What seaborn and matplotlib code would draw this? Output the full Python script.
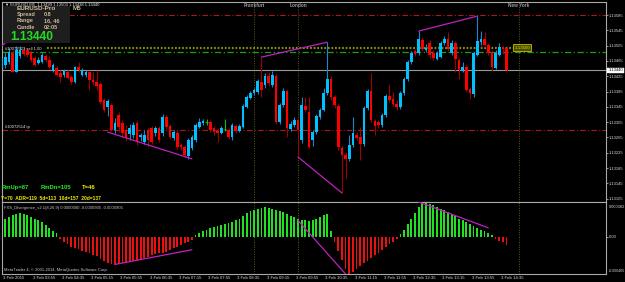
import numpy as np
import pandas as pd
import matplotlib
matplotlib.use("Agg")
import matplotlib.pyplot as plt
import matplotlib.transforms as mtransforms
from matplotlib.patches import Rectangle
import seaborn as sns

# ---------------- data (prices in points = 1e-5) ----------------
open_pts = [113447, 113454, 113462, 113486, 113436, 113478, 113494, 113494, 113488, 113473,
            113460, 113462, 113478, 113467, 113439, 113447, 113433, 113428, 113436, 113423,
            113410, 113449, 113428, 113428, 113436, 113415, 113410, 113405, 113363, 113345,
            113350, 113284, 113324, 113303, 113284, 113274, 113271, 113303, 113266, 113253,
            113284, 113290, 113277, 113290, 113277, 113318, 113295, 113264, 113277, 113245,
            113240, 113217, 113237, 113258, 113292, 113303, 113305, 113305, 113290, 113282,
            113277, 113287, 113284, 113266, 113295, 113282, 113292, 113345, 113368, 113381,
            113384, 113410, 113402, 113426, 113402, 113426, 113305, 113350, 113386, 113287,
            113298, 113311, 113258, 113347, 113332, 113258, 113279, 113318, 113337, 113381,
            113418, 113371, 113347, 113237, 113219, 113209, 113245, 113271, 113266, 113248,
            113342, 113386, 113308, 113305, 113298, 113324, 113373, 113366, 113352, 113345,
            113381, 113418, 113462, 113491, 113486, 113520, 113494, 113512, 113486, 113470,
            113475, 113512, 113522, 113486, 113512, 113467, 113439, 113449, 113392, 113379,
            113480, 113514, 113522, 113507, 113488, 113447, 113480, 113501, 113499]
high_pts = [113480, 113488, 113499, 113494, 113504, 113504, 113501, 113499, 113494, 113478,
            113475, 113486, 113483, 113478, 113460, 113452, 113441, 113444, 113441, 113428,
            113452, 113462, 113447, 113441, 113441, 113436, 113441, 113410, 113368, 113366,
            113355, 113316, 113332, 113311, 113298, 113300, 113305, 113308, 113277, 113284,
            113290, 113295, 113295, 113295, 113326, 113324, 113300, 113284, 113282, 113250,
            113245, 113264, 113271, 113303, 113316, 113313, 113313, 113311, 113295, 113290,
            113295, 113313, 113290, 113303, 113300, 113300, 113352, 113376, 113386, 113394,
            113418, 113475, 113433, 113436, 113439, 113431, 113355, 113394, 113389, 113308,
            113318, 113316, 113371, 113371, 113371, 113284, 113326, 113342, 113394, 113514,
            113426, 113376, 113352, 113243, 113227, 113271, 113318, 113279, 113292, 113347,
            113392, 113433, 113313, 113311, 113329, 113379, 113402, 113384, 113363, 113386,
            113423, 113467, 113491, 113496, 113543, 113528, 113509, 113520, 113494, 113491,
            113517, 113530, 113541, 113520, 113517, 113473, 113462, 113454, 113397, 113488,
            113582, 113543, 113541, 113512, 113494, 113494, 113512, 113504, 113503]
low_pts = [113436, 113447, 113457, 113436, 113436, 113473, 113478, 113475, 113462, 113452,
           113457, 113460, 113462, 113444, 113436, 113426, 113410, 113423, 113418, 113405,
           113407, 113436, 113426, 113423, 113389, 113402, 113389, 113352, 113332, 113321,
           113282, 113277, 113279, 113266, 113256, 113258, 113264, 113245, 113256, 113248,
           113240, 113248, 113269, 113253, 113269, 113287, 113261, 113258, 113235, 113232,
           113211, 113209, 113232, 113253, 113290, 113298, 113298, 113279, 113271, 113253,
           113274, 113282, 113261, 113258, 113277, 113279, 113290, 113342, 113366, 113376,
           113379, 113371, 113394, 113399, 113397, 113300, 113300, 113345, 113266, 113282,
           113292, 113214, 113250, 113332, 113237, 113243, 113274, 113313, 113334, 113376,
           113363, 113342, 113232, 113120, 113159, 113203, 113240, 113258, 113206, 113243,
           113337, 113305, 113271, 113290, 113292, 113318, 113358, 113347, 113337, 113339,
           113376, 113413, 113457, 113478, 113480, 113491, 113488, 113473, 113467, 113467,
           113473, 113507, 113491, 113480, 113436, 113418, 113436, 113384, 113366, 113371,
           113478, 113507, 113501, 113480, 113439, 113444, 113478, 113483, 113438]
close_pts = [113473, 113475, 113488, 113436, 113494, 113494, 113483, 113480, 113467, 113454,
             113467, 113480, 113467, 113449, 113454, 113428, 113423, 113439, 113420, 113410,
             113449, 113441, 113441, 113436, 113415, 113410, 113399, 113358, 113337, 113360,
             113284, 113303, 113292, 113277, 113266, 113290, 113298, 113253, 113271, 113271,
             113258, 113253, 113290, 113258, 113318, 113292, 113266, 113279, 113240, 113240,
             113219, 113258, 113266, 113298, 113305, 113308, 113305, 113284, 113279, 113277,
             113290, 113287, 113266, 113298, 113282, 113295, 113347, 113371, 113381, 113389,
             113413, 113389, 113426, 113407, 113428, 113305, 113350, 113386, 113290, 113300,
             113311, 113284, 113350, 113337, 113240, 113279, 113321, 113337, 113381, 113418,
             113371, 113350, 113240, 113219, 113209, 113245, 113277, 113264, 113248, 113342,
             113386, 113311, 113295, 113298, 113324, 113373, 113363, 113352, 113345, 113381,
             113418, 113462, 113486, 113483, 113522, 113496, 113499, 113480, 113473, 113486,
             113512, 113522, 113496, 113512, 113470, 113441, 113449, 113389, 113381, 113486,
             113517, 113522, 113507, 113486, 113449, 113486, 113501, 113496, 113440]

# divergence histogram, units of 1e-6
div_hist = [180, 200, 220, 240, 250, 260, 255, 240, 220, 200, 180, 160, 130, 100, 70, 40,
            -20, -50, -80, -110, -120, -130, -150, -160, -180, -200, -210, -240, -260, -280,
            -300, -310, -300, -290, -280, -270, -260, -250, -240, -230, -220, -200, -190, -180,
            -170, -160, -140, -120, -110, -90, -70, -50, -30,
            20, 40, 60, 80, 100, 110, 120, 130, 140, 150, 160, 180, 200, 230, 260, 280, 300,
            310, 320, 330, 320, 310, 290, 280, 270, 250, 230, 220, 200, 190, 180, 170, 180,
            200, 220, 240, 250, 60,
            -50, -150, -250, -350, -405, -380, -350, -320, -290, -260, -230, -200, -170, -140,
            -110, -80, -50, -20,
            30, 80, 140, 200, 260, 330, 382, 370, 360, 350, 330, 310, 290, 270, 250, 230, 200,
            180, 160, 140, 120, 100, 80, 60, 40, 20,
            -20, -40, -60, -90]

# price trend lines: (start index, start price pts, end index, end price pts)
trend_lines = [(0, 113504, 1, 113512), (29, 113279, 52, 113209), (71, 113475, 89, 113514),
               (81, 113214, 93, 113120), (114, 113543, 130, 113582)]
# indicator trend lines (index, value 1e-6)
ind_lines = [(31, -300, 52, -140), (81, 180, 94, -405), (114, 382, 133, 100)]

time_labels = ["3 Feb 2015", "3 Feb 03:55", "3 Feb 04:35", "3 Feb 05:15", "3 Feb 05:55",
               "3 Feb 06:35", "3 Feb 07:15", "3 Feb 07:55", "3 Feb 08:35", "3 Feb 09:15",
               "3 Feb 09:55", "3 Feb 10:35", "3 Feb 11:15", "3 Feb 11:55", "3 Feb 12:35",
               "3 Feb 13:15", "3 Feb 13:55", "3 Feb 14:35"]
time_idx = list(range(0, 137, 8))
price_ticks = [1.13585, 1.13545, 1.13505, 1.13465, 1.13425, 1.13385, 1.13345, 1.13305,
               1.13265, 1.13225, 1.13185, 1.13145, 1.13105]
sessions = ["Frankfurt", "London", "New York"]
session_idx = [69, 81, 141.3]
level_red_top = 1.13585
level_order = 1.13500
level_green = 1.13488
level_bid = 1.13440
level_tp = 1.13284

# ---------------- style ----------------
sns.set_style("dark", {"axes.facecolor": "black", "figure.facecolor": "black"})
plt.rcParams["font.family"] = ["Liberation Sans", "DejaVu Sans"]

W, H = 625, 282
fig = plt.figure(figsize=(W / 100, H / 100), dpi=100, facecolor="black")

def fx(x):
    return x / W

def fy(y):
    return 1 - y / H

ax = fig.add_axes([fx(2), fy(202), (606 - 2) / W, (202 - 1.7) / H])
ax2 = fig.add_axes([fx(2), fy(274), (606 - 2) / W, 72 / H], sharex=ax)
for a in (ax, ax2):
    a.set_facecolor("black")
    for s in a.spines.values():
        s.set_color("#a8a8a8")
        s.set_linewidth(0.8)
    a.grid(False)

df = pd.DataFrame({"o": np.array(open_pts) / 1e5, "h": np.array(high_pts) / 1e5,
                   "l": np.array(low_pts) / 1e5, "c": np.array(close_pts) / 1e5})
df["i"] = np.arange(len(df))
up = df[df.c > df.o]
dn = df[df.c < df.o]
dj = df[df.c == df.o]

XL, XR = 0.08, 165.2
ax.set_xlim(XL, XR)
ax.set_ylim(1.130963, 1.136198)

# horizontal levels
ax.axhline(level_red_top, color="#b01818", lw=0.8, ls=(0, (5, 2, 1, 2)), zorder=1)
ax.axhline(level_green, color="#16a016", lw=0.9, ls=(0, (5, 2, 1, 2)), zorder=1)
ax.axhline(level_bid, color="#9a9a9a", lw=0.8, zorder=1)
ax.axhline(level_tp, color="#b01818", lw=0.8, ls=(0, (5, 2, 1, 2)), zorder=1)
ax.hlines(level_order, 12.4, 139.8, color="#8a8a10", lw=1.6, ls=(0, (0.8, 0.8)), zorder=1)

# session verticals
for si in session_idx:
    ax.axvline(si, color="#5c5c1c", lw=0.7, ls=(0, (1, 1.5)), zorder=0.5)
    ax2.axvline(si, color="#5c5c1c", lw=0.7, ls=(0, (1, 1.5)), zorder=0.5)
btf = mtransforms.blended_transform_factory(ax.transData, ax.transAxes)
for name, si in zip(sessions, session_idx):
    ax.text(si, 0.983, name, transform=btf, ha="center", va="center", fontsize=3.4,
            color="#9c9c9c", fontweight="bold")

# candles
ax.vlines(up.i, up.l, up.h, color="#1a88c8", lw=0.8, zorder=2)
ax.vlines(dn.i, dn.l, dn.h, color="#a00000", lw=0.8, zorder=2)
ax.vlines(dj.i, dj.l, dj.h, color="#10c010", lw=0.8, zorder=2)
ax.bar(up.i, up.c - up.o, bottom=up.o, width=0.72, color="#00c0ff", linewidth=0, zorder=3)
ax.bar(dn.i, dn.o - dn.c, bottom=dn.c, width=0.72, color="#ff0000", linewidth=0, zorder=3)
ax.hlines(dj.o, dj.i - 0.36, dj.i + 0.36, color="#10c010", lw=0.8, zorder=3)

# magenta trend lines
for (x0, y0, x1, y1) in trend_lines:
    sns.lineplot(x=[x0, x1], y=[y0 / 1e5, y1 / 1e5], ax=ax, color="#c020c0", lw=0.9,
                 estimator=None, zorder=4)

# right price axis
ax.yaxis.tick_right()
ax.set_yticks(price_ticks)
ax.set_yticklabels([f"{p:.5f}" for p in price_ticks])
ax.tick_params(axis="y", length=1.6, width=0.5, colors="#d8d8d8", labelsize=3.0, pad=0.6,
               direction="out", left=False, right=True)
ax.tick_params(axis="x", bottom=False, labelbottom=False)
ax.set_xlabel("")
ax.set_ylabel("")

# current price label
ax.annotate(f"{level_bid:.5f}", xy=(1.0, level_bid), xycoords=("axes fraction", "data"),
            xytext=(1.6, 0), textcoords="offset points", ha="left", va="center",
            fontsize=3.0, color="black",
            bbox=dict(boxstyle="square,pad=0.2", fc="white", ec="white", lw=0.3),
            annotation_clip=False)
# order label
ax.text(140.2, level_order, f"{level_order:.5f}", ha="left", va="center", fontsize=3.2,
        color="#e0e000", zorder=5,
        bbox=dict(boxstyle="square,pad=0.25", fc="#4a4a00", ec="#e0e000", lw=0.5))
ax.text(1.0, 1.134955, "#10072523 sell 1.00", ha="left", va="center", fontsize=3.0,
        color="#e8e8e8", zorder=5)
ax.text(1.0, 1.13292, "#10072514 tp", ha="left", va="center", fontsize=3.0,
        color="#e8e8e8", zorder=5)

# ---------------- indicator ----------------
vals = np.array(div_hist) / 1e6
pos = vals >= 0
idx = np.arange(len(vals))
ax2.bar(idx[pos], vals[pos], width=0.5, color="#22e022", linewidth=0, zorder=2)
ax2.bar(idx[~pos], vals[~pos], width=0.5, color="#ee1010", linewidth=0, zorder=2)
for (x0, y0, x1, y1) in ind_lines:
    sns.lineplot(x=[x0, x1], y=[y0 / 1e6, y1 / 1e6], ax=ax2, color="#c020c0", lw=0.9,
                 estimator=None, zorder=4)
ax2.set_ylim(-0.000405, 0.000382)
ax2.yaxis.tick_right()
ax2.set_yticks([0.0])
ax2.set_yticklabels(["0.00"])
ax2.tick_params(axis="y", length=1.6, width=0.5, colors="#d8d8d8", labelsize=3.0, pad=0.6,
                direction="out", left=False, right=True)
off = mtransforms.ScaledTranslation(2.0 / 72, 0, fig.dpi_scale_trans)
ax2.text(1.0, 0.93, "0.000382", transform=ax2.transAxes + off, ha="left", va="center",
         fontsize=2.9, color="#d8d8d8", clip_on=False)
ax2.text(1.0, 0.04, "-0.000405", transform=ax2.transAxes + off, ha="left", va="center",
         fontsize=2.6, color="#d8d8d8", clip_on=False)
ax2.set_xticks(time_idx)
ax2.tick_params(axis="x", length=3.0, width=0.5, colors="#c8c8c8", direction="out",
                labelbottom=False)
bt2 = mtransforms.blended_transform_factory(ax2.transData, ax2.transAxes)
for ti, lab in zip(time_idx, time_labels):
    ax2.text(ti + 0.45, -0.05, lab, transform=bt2, ha="left", va="center", fontsize=3.1,
             color="#d8d8d8", clip_on=False)
ax2.set_xlabel("")
ax2.set_ylabel("")
ax2.text(0.003, 0.92, "FXS_Divergence_v2.1(8,26,9) 0.0000000 -0.0000905 -0.0000905",
         transform=ax2.transAxes, ha="left", va="center", fontsize=3.0, color="#c8c8c8")
ax2.text(0.003, 0.05, "MetaTrader 4, \u00a9 2001-2014, MetaQuotes Software Corp.",
         transform=ax2.transAxes, ha="left", va="center", fontsize=3.0, color="#c8c8c8")
ax2.set_xlim(XL, XR)

# ---------------- overlays (figure text) ----------------
fig.add_artist(Rectangle((fx(3.3), fy(43)), (70 - 3.3) / W, (43 - 6) / H,
                         transform=fig.transFigure, fc="#1e1e1e", ec="none", zorder=5))
fig.text(fx(5), fy(4.6), "\u25bc EURUSD,M5  1.13499 1.13503 1.13438 1.13440", fontsize=3.0,
         color="#e8e8e8", ha="left", va="center", zorder=7,
         family=["Liberation Sans", "DejaVu Sans"])
tan = "#cdb996"
fig.text(fx(17), fy(8.8), "EURUSD-Pro", fontsize=4.6, color=tan, fontweight="bold",
         ha="left", va="center", zorder=6)
fig.text(fx(73), fy(8.8), "M5", fontsize=4.6, color=tan, fontweight="bold",
         ha="left", va="center", zorder=6)
for yy, k, v in [(14.3, "Spread", "0.8"), (20.7, "Range", "16, 46"), (27.3, "Candle", "02:05")]:
    fig.text(fx(17), fy(yy), k, fontsize=4.0, color=tan, fontweight="bold", ha="left",
             va="center", zorder=6)
    fig.text(fx(44), fy(yy), v, fontsize=4.0, color=tan, fontweight="bold", ha="left",
             va="center", zorder=6)
fig.text(fx(10), fy(37), f"{level_bid:.5f}", fontsize=8.6, color="#22dd22",
         fontweight="bold", ha="left", va="center", zorder=6)

fig.text(fx(1.5), fy(187.3), "RmUp=87", fontsize=4.2, color="#22ee22", fontweight="bold",
         ha="left", va="center")
fig.text(fx(41), fy(187.3), "RmDn=105", fontsize=4.2, color="#22ee22", fontweight="bold",
         ha="left", va="center")
fig.text(fx(82), fy(187.3), "T=46", fontsize=4.2, color="#f0f000", fontweight="bold",
         ha="left", va="center")
fig.text(fx(1.5), fy(199), "Y=70  ADR=119  5d=113  10d=157  20d=137", fontsize=3.5,
         color="#f0f000", fontweight="bold", ha="left", va="center")

fig.savefig("out.png", dpi=100, facecolor="black")
